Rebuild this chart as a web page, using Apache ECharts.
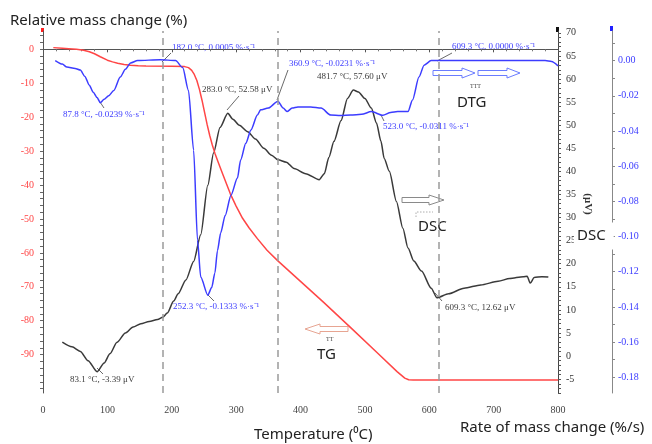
<!DOCTYPE html>
<html>
<head>
<meta charset="utf-8">
<script src="https://cdn.jsdelivr.net/npm/echarts@6/dist/echarts.min.js"></script>
<style>
  html, body { margin: 0; padding: 0; background: #fff; }
  #chart { width: 652px; height: 444px; }
</style>
</head>
<body>
<div id="chart"></div>
<script>
// TG curve: temperature (°C) and relative mass change (%)
const tgTemp = [16, 30, 40, 52, 63, 72, 80, 89, 100, 108, 116, 126, 136, 148, 160, 200, 220, 226, 231, 235, 239, 243, 247, 251, 255, 259, 263, 267, 272, 280, 291, 300, 310, 320, 333, 348, 364, 382, 400, 436, 480, 520, 550, 562, 568, 575, 800];
const tgMass = [0.5, 0.35, 0.2, 0.0, -0.3, -0.7, -1.3, -2.2, -3.2, -3.7, -4.1, -4.5, -4.7, -4.85, -4.9, -5.0, -5.1, -5.4, -6.2, -7.4, -9.2, -11.8, -15.0, -18.6, -22.2, -25.4, -28.2, -30.6, -33.2, -37.2, -42.6, -46.2, -49.8, -52.6, -55.8, -59.2, -62.2, -65.3, -68.4, -74.6, -82.4, -89.6, -95.0, -96.9, -97.4, -97.5, -97.5];

// DSC curve: temperature (°C) and signal (µV)
const dscTemp = [30, 45, 58, 70, 84, 95, 104, 115, 128, 140, 152, 165, 178, 186, 193, 203, 210, 222, 234, 245, 256, 265, 275, 287, 295, 305, 318, 330, 343, 355, 365, 378, 390, 408, 429, 437, 444, 452, 463, 473, 482, 490, 500, 510, 518, 525, 530, 538, 549, 559, 567, 576, 588, 603, 612, 630, 654, 680, 707, 725, 746, 752, 757, 763, 775, 785];
const dscSignal = [3.0, 2.0, 1.0, -1.0, -3.39, -1.5, 0.5, 3.0, 5.0, 6.3, 7.0, 7.5, 7.9, 8.4, 9.3, 11.9, 13.5, 16.5, 20.5, 26.3, 37, 44, 49.5, 52.58, 51.3, 50, 48.6, 47, 45, 43.5, 42.5, 42, 40.6, 39.5, 38.2, 39.5, 43, 46.5, 51, 55.8, 57.6, 57.2, 55.8, 53.7, 50.5, 46.5, 42.8, 40, 33.5, 27.7, 23.4, 20.6, 18.4, 14.7, 12.62, 13.5, 14.7, 15.4, 16.2, 16.8, 17.2, 17.3, 15.8, 17.0, 17.2, 17.1];

// DTG curve: temperature (°C) and rate of mass change (%/s)
const dtgTemp = [19, 30, 37, 50, 58, 65, 72, 78, 84, 89, 95, 102, 110, 120, 128, 136, 147, 182, 206, 217, 226, 234, 240, 245, 256, 262, 267, 271, 276, 283, 292, 302, 307, 315, 323, 333, 338, 350, 365, 373, 379, 387, 396, 416, 432, 447, 462, 478, 495, 510, 528, 540, 551, 567, 574, 584, 592, 603, 615, 780, 790, 800];
const dtgRate = [0.0, -0.002, -0.0037, -0.0045, -0.0054, -0.009, -0.014, -0.018, -0.021, -0.0239, -0.022, -0.020, -0.017, -0.0094, -0.005, -0.0014, 0.0, 0.0005, 0.0, -0.004, -0.017, -0.051, -0.102, -0.123, -0.1333, -0.129, -0.1207, -0.108, -0.098, -0.088, -0.0765, -0.0668, -0.0565, -0.047, -0.0395, -0.031, -0.028, -0.027, -0.0231, -0.027, -0.029, -0.027, -0.0264, -0.0264, -0.027, -0.031, -0.0312, -0.031, -0.0305, -0.029, -0.0311, -0.0295, -0.029, -0.029, -0.0224, -0.0094, -0.0026, 0.0, 0.0, 0.0, -0.0005, -0.003];

// dashed reference temperatures
const refTemps = [186, 365, 615];

// tick labels
const tempLabels = [0, 100, 200, 300, 400, 500, 600, 700, 800];
const massLabels = [0, -10, -20, -30, -40, -50, -60, -70, -80, -90];
const dscLabels = [-5, 0, 5, 10, 15, 20, 25, 30, 35, 40, 45, 50, 55, 60, 65, 70];
const dtgLabels = [0, -0.02, -0.04, -0.06, -0.08, -0.1, -0.12, -0.14, -0.16, -0.18];

function pairs(xs, ys) {
    return xs.map((x, i) => [x, ys[i]]);
}
function steps(from, to, step) {
    let out = [];
    for (let v = from; v <= to + 1e-9; v += step) out.push(+v.toFixed(4));
    return out;
}

const serif = 'Liberation Serif';
const sans = 'Noto Sans';
const red = '#ff4646';
const blue = '#3c3cff';
const dark = '#3a3a3a';

const myChart = echarts.init(document.getElementById('chart'), null, { renderer: 'canvas' });

function note(x, y, text, color) {
    return {
        type: 'text', x: x, y: y, silent: true,
        style: { text: text, font: '9px "' + serif + '"', fill: color, align: 'left', verticalAlign: 'middle' }
    };
}
function leader(x1, y1, x2, y2, color) {
    return {
        type: 'line', silent: true,
        shape: { x1: x1, y1: y1, x2: x2, y2: y2 },
        style: { stroke: color, lineWidth: 0.8 }
    };
}
function arrow(x0, x1, y, headLen, color, left) {
    let pts
    if (!left) {
        let hx = x1 - headLen
        pts = [[x0, y - 2.5], [hx, y - 2.5], [hx, y - 5], [x1, y], [hx, y + 5], [hx, y + 2.5], [x0, y + 2.5]]
    } else {
        let hx = x0 + headLen
        pts = [[x1, y - 2.5], [hx, y - 2.5], [hx, y - 5], [x0, y], [hx, y + 5], [hx, y + 2.5], [x1, y + 2.5]]
    }
    return {
        type: 'polygon', silent: true,
        shape: { points: pts },
        style: { fill: '#fff', stroke: color, lineWidth: 1 }
    };
}

myChart.setOption({
    backgroundColor: '#ffffff',
    animation: false,
    grid: { left: 43, right: 94, top: 31, bottom: 51, containLabel: false },
    xAxis: {
        type: 'value', min: 0, max: 800, interval: 100,
        axisLine: { lineStyle: { color: '#555', width: 1 } },
        axisTick: { length: 3, lineStyle: { color: '#555' } },
        minorTick: { show: true, splitNumber: 5, length: 2, lineStyle: { color: '#777' } },
        splitLine: { show: false },
        axisLabel: {
            customValues: tempLabels,
            color: '#444', fontFamily: serif, fontSize: 10, margin: 12
        }
    },
    yAxis: [
        {
            type: 'value', position: 'left', min: -101.3, max: 5.4,
            axisLine: { show: true, lineStyle: { color: '#555', width: 1 } },
            axisTick: { show: true, customValues: steps(-100, 4, 2), length: 3, lineStyle: { color: '#666' } },
            splitLine: { show: false },
            axisLabel: { customValues: massLabels, color: red, fontFamily: serif, fontSize: 10, margin: 9 }
        },
        {
            type: 'value', position: 'right', offset: 0, min: -8, max: 70.4,
            axisLine: { show: true, onZero: false, lineStyle: { color: '#444', width: 1 } },
            axisTick: { show: true, customValues: steps(-8, 70, 1), length: 3, lineStyle: { color: '#555' } },
            splitLine: { show: false },
            axisLabel: { customValues: dscLabels, color: '#333', fontFamily: serif, fontSize: 10, margin: 8 }
        },
        {
            type: 'value', position: 'right', offset: 54, min: -0.1889, max: 0.0168,
            axisLine: { show: true, onZero: false, lineStyle: { color: '#888', width: 1 } },
            axisTick: { show: true, customValues: steps(-0.18, 0.01, 0.01), length: 3, lineStyle: { color: '#888' } },
            splitLine: { show: false },
            axisLabel: {
                customValues: dtgLabels, color: blue, fontFamily: serif, fontSize: 10, margin: 6,
                formatter: v => v.toFixed(2)
            }
        }
    ],
    series: [
        {
            name: 'TG', type: 'line', yAxisIndex: 0,
            data: pairs(tgTemp, tgMass),
            showSymbol: false, smooth: false,
            lineStyle: { color: red, width: 1.5 },
            markLine: {
                silent: true, symbol: 'none', label: { show: false },
                lineStyle: { color: '#9a9a9a', type: [7, 5], width: 1.5 },
                data: refTemps.map(t => ({ xAxis: t }))
            },
            z: 3
        },
        {
            name: 'DSC', type: 'line', yAxisIndex: 1,
            data: pairs(dscTemp, dscSignal),
            showSymbol: false, smooth: 0.25, smoothMonotone: 'x',
            lineStyle: { color: dark, width: 1.5 },
            z: 2
        },
        {
            name: 'DTG', type: 'line', yAxisIndex: 2,
            data: pairs(dtgTemp, dtgRate),
            showSymbol: false, smooth: 0.25, smoothMonotone: 'x',
            lineStyle: { color: blue, width: 1.5 },
            z: 4
        }
    ],
    graphic: [
        // axis top markers
        { type: 'rect', silent: true, shape: { x: 41, y: 28, width: 3, height: 4 }, style: { fill: '#ff2020' } },
        { type: 'rect', silent: true, shape: { x: 556, y: 27, width: 3, height: 5 }, style: { fill: '#111' } },
        { type: 'rect', silent: true, shape: { x: 610, y: 26, width: 3, height: 5 }, style: { fill: '#2020ff' } },

        // axis titles
        { type: 'text', x: 10, y: 21, silent: true, style: { text: 'Relative mass change (%)', font: '15px "' + sans + '"', fill: '#222', verticalAlign: 'middle' } },
        { type: 'text', x: 254, y: 435, silent: true, style: { text: 'Temperature (⁰C)', font: '15px "' + sans + '"', fill: '#222', verticalAlign: 'middle' } },
        { type: 'text', x: 460, y: 428, silent: true, style: { text: 'Rate of mass change (%/s)', font: '15px "' + sans + '"', fill: '#222', verticalAlign: 'middle' } },
        { type: 'text', x: 574, y: 236, silent: true, z: 10, style: { text: 'DSC', font: '15px "' + sans + '"', fill: '#222', verticalAlign: 'middle', backgroundColor: '#fff', padding: [6, 8, 6, 3] } },
        { type: 'text', x: 588, y: 204, rotation: -Math.PI / 2, silent: true, style: { text: '(μV)', font: 'bold 11px "' + serif + '"', fill: '#333', align: 'center', verticalAlign: 'middle' } },

        // curve labels and arrows
        arrow(433, 475, 73, 13, '#6a7cff', false),
        arrow(478, 520, 73, 13, '#6a7cff', false),
        { type: 'text', x: 470, y: 86, silent: true, style: { text: 'TTT', font: '6px "' + serif + '"', fill: '#444', verticalAlign: 'middle' } },
        { type: 'text', x: 457, y: 103, silent: true, style: { text: 'DTG', font: '15px "' + sans + '"', fill: '#222', verticalAlign: 'middle' } },

        arrow(402, 444, 200, 15, '#8a8a8a', false),
        { type: 'polyline', silent: true, shape: { points: [[416, 217], [416, 212], [433, 212]] }, style: { stroke: '#999', lineWidth: 0.8, lineDash: [1.5, 1.5] } },
        { type: 'text', x: 418, y: 227, silent: true, style: { text: 'DSC', font: '15px "' + sans + '"', fill: '#222', verticalAlign: 'middle' } },

        arrow(305, 348, 329, 15, '#e7a592', true),
        { type: 'text', x: 326, y: 339, silent: true, style: { text: 'TT', font: '6px "' + serif + '"', fill: '#444', verticalAlign: 'middle' } },
        { type: 'text', x: 317, y: 355, silent: true, style: { text: 'TG', font: '15px "' + sans + '"', fill: '#222', verticalAlign: 'middle' } },

        // peak annotations
        leader(162, 62, 171, 53, '#444'),
        note(172, 48, '182.0 °C, 0.0005 %·s⁻¹', blue),
        leader(100, 102, 104, 108, '#444'),
        note(63, 115, '87.8 °C, -0.0239 %·s⁻¹', blue),
        leader(227, 110, 239, 96, '#444'),
        note(202, 90, '283.0 °C, 52.58 μV', dark),
        leader(277, 100, 288, 70, '#444'),
        note(289, 64, '360.9 °C, -0.0231 %·s⁻¹', blue),
        note(317, 77, '481.7 °C, 57.60 μV', dark),
        leader(381, 115, 384, 121, '#444'),
        note(383, 127, '523.0 °C, -0.0311 %·s⁻¹', blue),
        leader(437, 61, 452, 53, '#444'),
        note(452, 47, '609.3 °C, 0.0000 %·s⁻¹', blue),
        leader(207, 294, 214, 301, '#444'),
        note(173, 307, '252.3 °C, -0.1333 %·s⁻¹', blue),
        leader(97, 368, 103, 374, '#444'),
        note(70, 380, '83.1 °C, -3.39 μV', dark),
        leader(435, 293, 442, 301, '#444'),
        note(445, 308, '609.3 °C, 12.62 μV', dark)
    ]
});
</script>
</body>
</html>
